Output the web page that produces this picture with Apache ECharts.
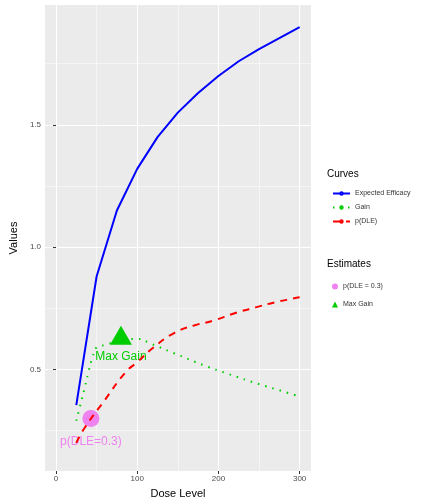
<!DOCTYPE html><html><head><meta charset="utf-8">
<script src="https://cdn.jsdelivr.net/npm/echarts@6/dist/echarts.min.js"></script>
<style>html,body{margin:0;background:#fff}#c{width:432px;height:504px}</style></head><body><div id="c"></div>
<script>
const effDose=[25,50,75,100,125,150,175,200,225,250,275,300];
const effVal=[0.354,0.88,1.15,1.32,1.45,1.55,1.63,1.70,1.76,1.81,1.855,1.90];
const gainDose=[25,30,35,40,45,50,60,75,90,100,117,145,183,212,250,275,300];
const gainVal=[0.29,0.355,0.42,0.49,0.55,0.59,0.60,0.615,0.625,0.625,0.605,0.567,0.516,0.482,0.44,0.415,0.39];
const dleDose=[25,35,59,86,100,120,146,170,194,220,246,270,292,300];
const dleVal=[0.20,0.26,0.37,0.49,0.53,0.59,0.65,0.68,0.70,0.73,0.754,0.775,0.79,0.795];
const pDle=[43,0.30];
const maxGain=[80,0.64];
const xTicks=[0,100,200,300];
const xMinor=[50,150,250];
const yTicks=[0.5,1.0,1.5];
const yMinor=[0.25,0.75,1.25,1.75];
const zip=(a,b)=>a.map((v,i)=>[v,b[i]]);
const f='Liberation Sans, Arial, sans-serif';
const gl={show:true,lineStyle:{color:'#fff',width:1.1}};
const glm={show:true,lineStyle:{color:'#fff',width:0.5}};
const xBase={type:'value',min:-13.5,max:314,axisLine:{show:false}};
const yBase={type:'value',min:0.085,max:1.99,axisLine:{show:false}};
const c=echarts.init(document.getElementById('c'));
c.setOption({
 animation:false,
 grid:{left:37,top:5,width:274,height:473,backgroundColor:'#EBEBEB',show:true,borderWidth:0},
 xAxis:[
  Object.assign({},xBase,{name:'Dose Level',nameLocation:'middle',nameGap:17,nameTextStyle:{fontFamily:f,fontSize:11,color:'#000'},
   axisTick:{show:true,customValues:xTicks,length:3,lineStyle:{color:'#333'}},
   axisLabel:{customValues:xTicks,fontFamily:f,fontSize:8,color:'#4d4d4d',margin:4},splitLine:gl}),
  Object.assign({},xBase,{axisTick:{show:false,customValues:xMinor},axisLabel:{show:false,customValues:xMinor},splitLine:glm})
 ],
 yAxis:[
  Object.assign({},yBase,{name:'Values',nameLocation:'middle',nameGap:24,nameTextStyle:{fontFamily:f,fontSize:11,color:'#000'},
   axisTick:{show:true,customValues:yTicks,length:3,lineStyle:{color:'#333'}},
   axisLabel:{customValues:yTicks,fontFamily:f,fontSize:8,color:'#4d4d4d',margin:4,formatter:v=>v.toFixed(1)},splitLine:gl}),
  Object.assign({},yBase,{axisTick:{show:false,customValues:yMinor},axisLabel:{show:false,customValues:yMinor},splitLine:glm})
 ],
 legend:[
  {data:['Expected Efficacy','Gain','p(DLE)'],orient:'vertical',left:327,top:185,itemWidth:17,itemHeight:3,itemGap:7,
   textStyle:{fontFamily:f,fontSize:7,color:'#333'},title:null},
  {data:['p(DLE = 0.3)','Max Gain'],orient:'vertical',left:327,top:278,itemWidth:6,itemHeight:6,itemGap:11,
   textStyle:{fontFamily:f,fontSize:7,color:'#333'}}
 ],
 graphic:[
  {type:'text',left:327,top:169,style:{text:'Curves',font:'10px '+f,fill:'#000'}},
  {type:'text',left:327,top:259,style:{text:'Estimates',font:'10px '+f,fill:'#000'}}
 ],
 series:[
  {name:'Expected Efficacy',type:'line',data:zip(effDose,effVal),showSymbol:false,lineStyle:{color:'#0000FF',width:2},itemStyle:{color:'#0000FF'}},
  {name:'Gain',type:'line',smooth:true,data:zip(gainDose,gainVal),showSymbol:false,lineStyle:{color:'#00CD00',width:2,type:[1.5,6]},itemStyle:{color:'#00CD00'}},
  {name:'p(DLE)',type:'line',smooth:true,data:zip(dleDose,dleVal),showSymbol:false,lineStyle:{color:'#FF0000',width:2,type:[7,6]},itemStyle:{color:'#FF0000'}},
  {name:'p(DLE = 0.3)',type:'scatter',data:[pDle],symbol:'circle',symbolSize:17,itemStyle:{color:'#EE82EE',opacity:1},
   label:{show:true,position:'bottom',distance:9,formatter:'p(DLE=0.3)',fontFamily:f,fontSize:12,color:'#EE82EE'}},
  {name:'Max Gain',type:'scatter',data:[maxGain],symbol:'triangle',symbolSize:[22,19],itemStyle:{color:'#00CD00',opacity:1},
   label:{show:true,position:'bottom',distance:6,formatter:'Max Gain',fontFamily:f,fontSize:12,color:'#00CD00'}}
 ]
});
</script></body></html>
